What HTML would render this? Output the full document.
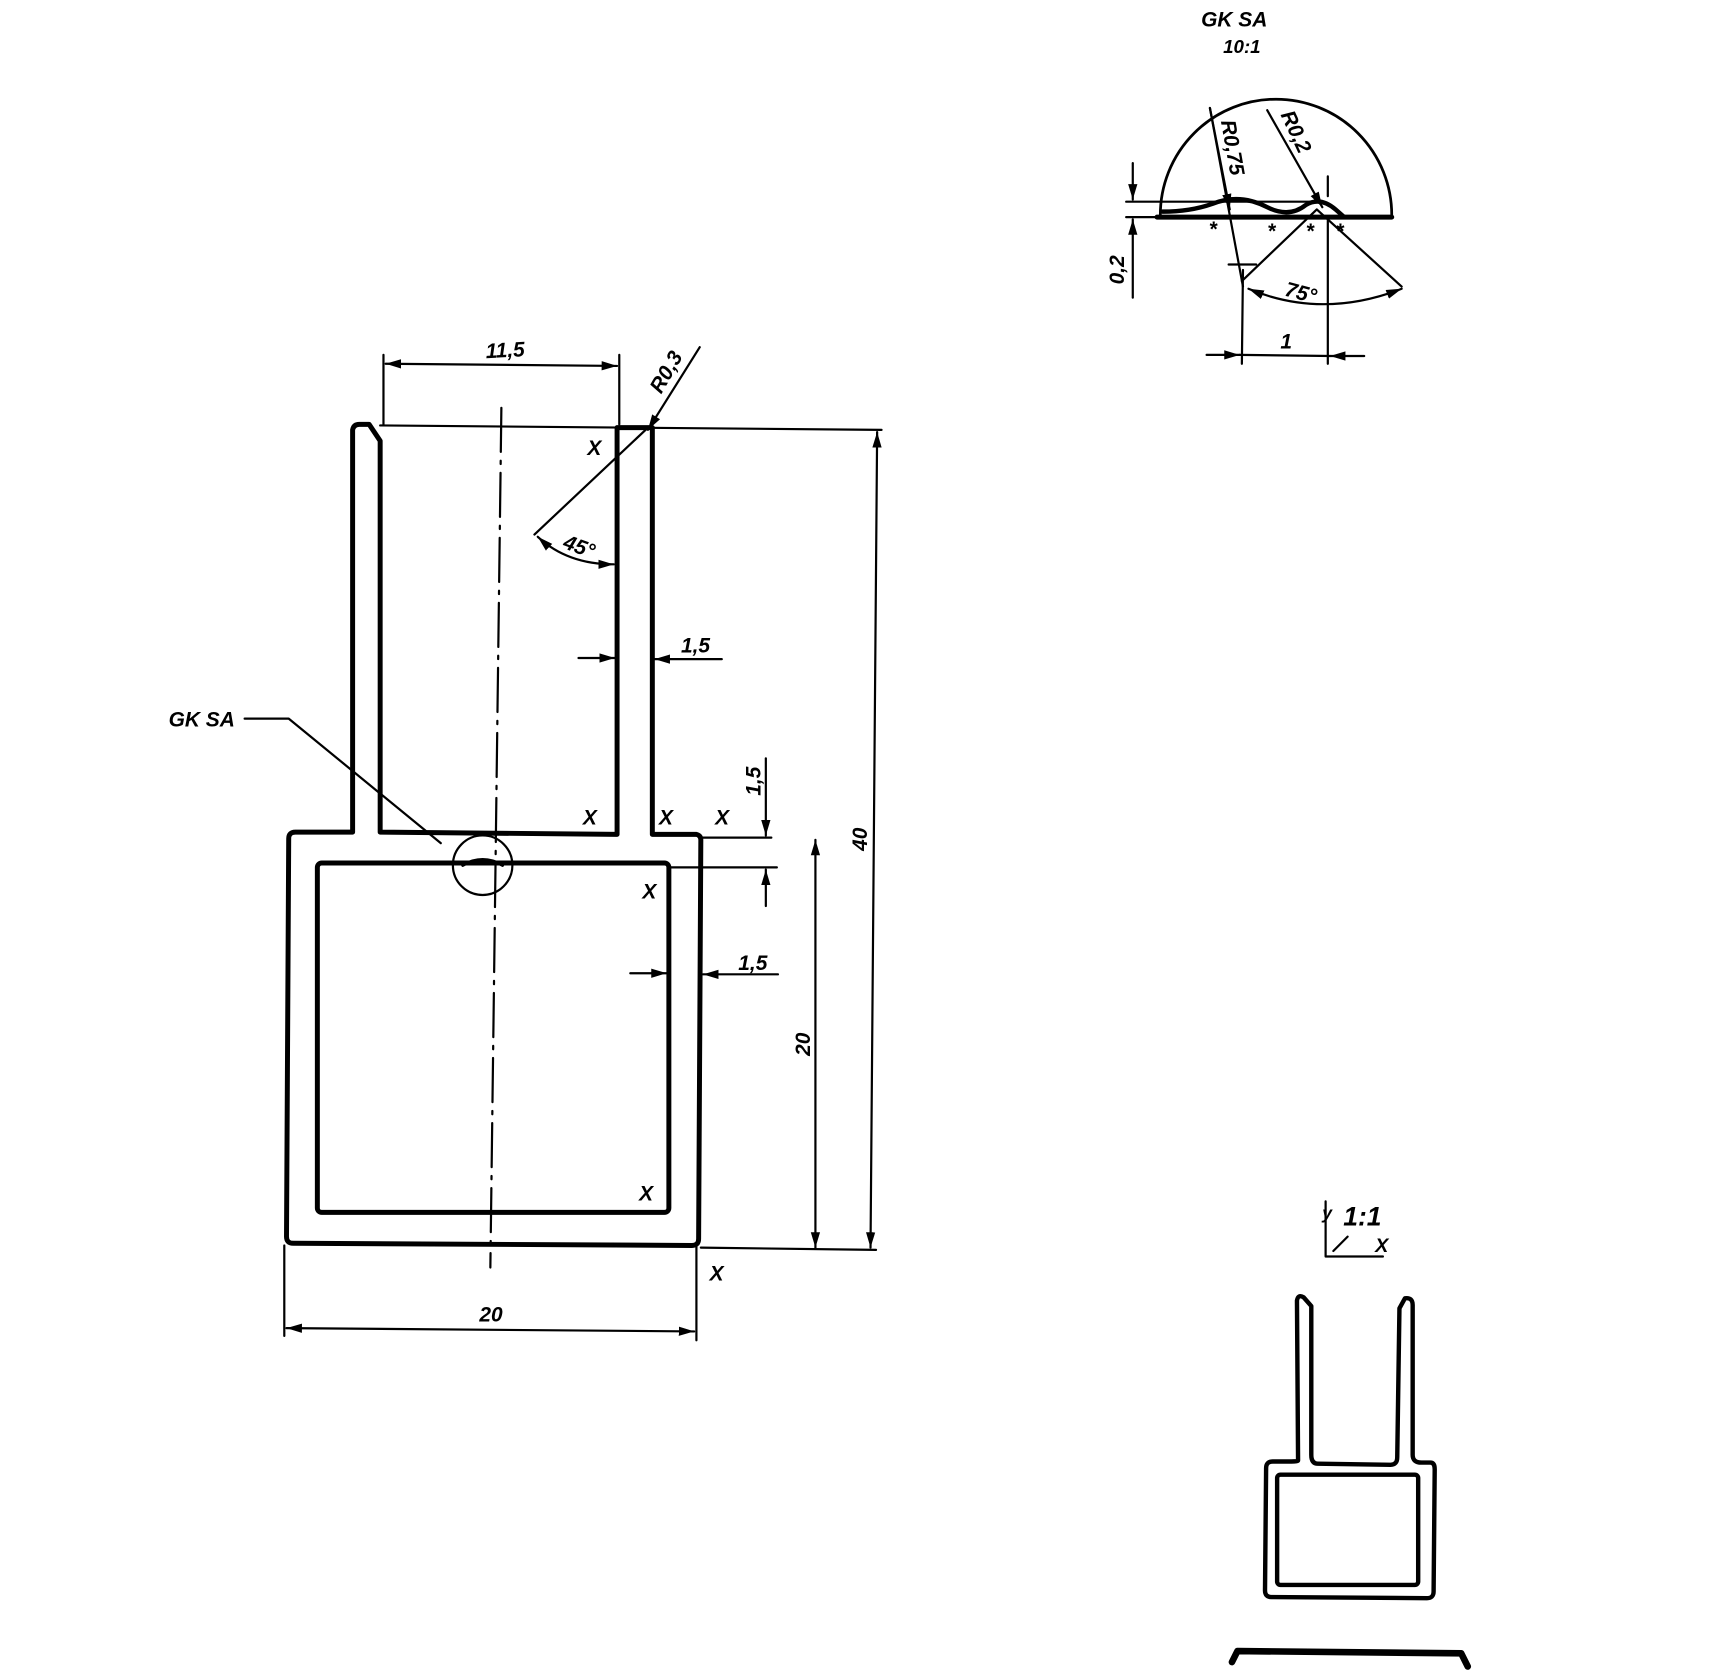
<!DOCTYPE html>
<html><head><meta charset="utf-8"><style>
html,body{margin:0;padding:0;background:#fff}
svg{display:block}
text{font-family:"Liberation Sans",sans-serif;font-style:italic;font-weight:bold;fill:#000}
</style></head><body>
<svg width="1719" height="1672" viewBox="0 0 1560 1517" preserveAspectRatio="none" xmlns="http://www.w3.org/2000/svg">
<defs>
<marker id="a" viewBox="0 0 10 10" refX="10" refY="5" markerWidth="7" markerHeight="7" orient="auto-start-reverse"><path d="M0,2 L10,5 L0,8 Z" fill="#000"/></marker>
</defs>
<g fill="none" stroke="#000" stroke-linecap="round" stroke-linejoin="round">
<!-- main profile outer -->
<path d="M320,755 L320,390 Q321,385 326,385 L335,385 L345,400 L345,755 L560,757 L560,388 L592,388 L592,757 L632,757 Q636,758 636,762 L634,1124 Q634,1130 628,1130 L266,1128 Q260,1128 260,1122 L262,761 Q262,755 268,755 Z" stroke-width="4.5"/>
<rect x="288" y="783" width="319" height="317" rx="4" stroke-width="4.5"/>
<!-- centerline -->
<path d="M455,370 L445,1150" stroke-width="2" stroke-dasharray="40,8,3,8"/>
<!-- 11,5 -->
<path d="M348,322 L348,385 M562,322 L562,385" stroke-width="2"/>
<path d="M350,330 L560,332" stroke-width="2" marker-start="url(#a)" marker-end="url(#a)"/>
<!-- R0,3 -->
<path d="M635,315 L588,390" stroke-width="2" marker-end="url(#a)"/>
<!-- extension top -->
<path d="M345,386 L800,390" stroke-width="2"/>
<!-- 45 -->
<path d="M588,388 L485,485" stroke-width="2"/>
<path d="M488,487 Q515,512 557,512" stroke-width="2" marker-start="url(#a)" marker-end="url(#a)"/>
<!-- 1,5 prong -->
<path d="M525,597 L558,597" stroke-width="2" marker-end="url(#a)"/>
<path d="M655,598 L594,598" stroke-width="2" marker-end="url(#a)"/>
<!-- vertical 1,5 -->
<path d="M636,760 L700,760 M607,787 L705,787" stroke-width="2"/>
<path d="M695,688 L695,758" stroke-width="2" marker-end="url(#a)"/>
<path d="M695,822 L695,789" stroke-width="2" marker-end="url(#a)"/>
<!-- 1,5 wall -->
<path d="M572,883 L605,883" stroke-width="2" marker-end="url(#a)"/>
<path d="M706,884 L638,884" stroke-width="2" marker-end="url(#a)"/>
<!-- 20 vertical -->
<path d="M740,762 L740,1132" stroke-width="2" marker-start="url(#a)" marker-end="url(#a)"/>
<path d="M636,1132 L795,1134" stroke-width="2"/>
<!-- 40 -->
<path d="M796,392 L790,1132" stroke-width="2" marker-start="url(#a)" marker-end="url(#a)"/>
<!-- 20 horizontal -->
<path d="M258,1130 L258,1212 M632,1130 L632,1216" stroke-width="2"/>
<path d="M260,1205 L630,1208" stroke-width="2" marker-start="url(#a)" marker-end="url(#a)"/>
<!-- GK SA leader -->
<path d="M222,652 L262,652 L400,765" stroke-width="2"/>
<circle cx="438" cy="785" r="27" stroke-width="2"/>
<path d="M420,785 Q438,775 456,785" stroke-width="3"/>
<!-- detail -->
<path d="M1053,195 A105,105 0 0 1 1263,195" stroke-width="2.5"/>
<path d="M1022,183 L1200,183 M1022,197 L1263,197" stroke-width="2"/>
<path d="M1050,197 L1263,197" stroke-width="4.5"/>
<path d="M1055,192 Q1080,192 1100,185 Q1125,175 1150,188 Q1170,198 1185,186 Q1198,178 1212,190 L1220,197" stroke-width="4"/>
<path d="M1028,148 L1028,181" stroke-width="2" marker-end="url(#a)"/>
<path d="M1028,270 L1028,199" stroke-width="2" marker-end="url(#a)"/>
<path d="M1098,98 L1128,260" stroke-width="2" marker-end="none"/>
<path d="M1098,98 L1116,190" stroke-width="2" marker-end="url(#a)"/>
<path d="M1115,240 L1140,240" stroke-width="2"/>
<path d="M1150,100 L1200,188" stroke-width="2" marker-end="url(#a)"/>
<path d="M1205,160 L1205,178 M1205,200 L1205,330" stroke-width="2"/>
<path d="M1127,255 L1195,190 L1272,260" stroke-width="2"/>
<path d="M1133,262 Q1200,290 1272,262" stroke-width="2" marker-start="url(#a)" marker-end="url(#a)"/>
<path d="M1128,245 L1127,330" stroke-width="2"/>
<path d="M1095,322 L1125,322" stroke-width="2" marker-end="url(#a)"/>
<path d="M1238,323 L1207,323" stroke-width="2" marker-end="url(#a)"/>
<path d="M1125,322 L1207,323" stroke-width="2"/>
<!-- small view -->
<path d="M1178,1325 L1177,1180 Q1178,1174 1183,1177 L1190,1185 L1190,1320 Q1190,1328 1196,1328 L1262,1329 Q1268,1329 1268,1322 L1270,1187 L1275,1178 Q1282,1177 1282,1184 L1282,1320 Q1282,1327 1290,1327 L1298,1327 Q1302,1327 1302,1333 L1301,1444 Q1301,1450 1295,1450 L1154,1449 Q1148,1449 1148,1443 L1149,1332 Q1149,1326 1155,1326 L1172,1326 Q1178,1326 1178,1325 Z" stroke-width="4"/>
<rect x="1159" y="1338" width="128" height="100" rx="3" stroke-width="4"/>
<path d="M1203,1090 L1203,1140 L1255,1140 M1210,1135 L1223,1122" stroke-width="2"/>
<path d="M1118,1508 L1123,1498 L1326,1500 L1332,1512" stroke-width="6"/>
</g>
<g font-size="19">
<text x="441" y="325" transform="rotate(-3 441 325)">11,5</text>
<text x="600" y="358" transform="rotate(-60 600 358)">R0,3</text>
<text x="510" y="497" transform="rotate(20 510 497)">45°</text>
<text x="618" y="592">1,5</text>
<text x="690" y="722" transform="rotate(-90 690 722)">1,5</text>
<text x="670" y="880">1,5</text>
<text x="735" y="958" transform="rotate(-90 735 958)">20</text>
<text x="787" y="772" transform="rotate(-90 787 772)">40</text>
<text x="435" y="1199">20</text>
<text x="153" y="659">GK SA</text>
<text x="533" y="413">X</text>
<text x="529" y="748">X</text>
<text x="598" y="748">X</text>
<text x="649" y="748">X</text>
<text x="583" y="815">X</text>
<text x="580" y="1089">X</text>
<text x="644" y="1162">X</text>
<text x="1090" y="24">GK SA</text>
<text x="1110" y="48" font-size="17">10:1</text>
<text x="1108" y="110" transform="rotate(80 1108 110)">R0,75</text>
<text x="1162" y="104" transform="rotate(65 1162 104)">R0,2</text>
<text x="1020" y="258" transform="rotate(-90 1020 258)">0,2</text>
<text x="1165" y="268" transform="rotate(15 1165 268)">75°</text>
<text x="1162" y="316">1</text>
<text x="1097" y="214">*</text><text x="1150" y="216">*</text><text x="1185" y="216">*</text><text x="1212" y="216">*</text>
<text x="1219" y="1112" font-size="24" font-style="normal">1:1</text>
<text x="1200" y="1106" font-size="16">y</text>
<text x="1248" y="1136" font-size="18">X</text>
</g>
</svg>
</body></html>
